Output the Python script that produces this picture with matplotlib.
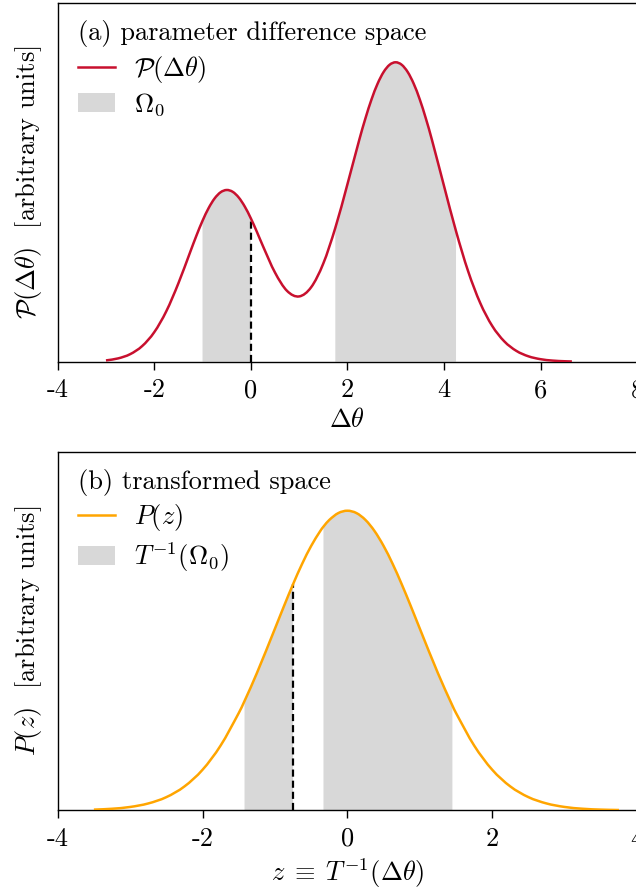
import matplotlib
matplotlib.use('Agg')
import matplotlib.pyplot as plt
from matplotlib.lines import Line2D
from matplotlib.patches import PathPatch, Patch
from matplotlib.path import Path
import numpy as np

# panel (a): density in parameter-difference space (peak = 1)
dtheta = [-3, -2.75, -2.5, -2.25, -2, -1.75, -1.5, -1.25, -1.125, -1, -0.875,
          -0.75, -0.625, -0.5, -0.375, -0.25, -0.125, 0, 0.125, 0.25, 0.5,
          0.75, 1, 1.25, 1.5, 1.75, 2, 2.25, 2.375, 2.5, 2.625, 2.75, 2.875,
          3, 3.125, 3.25, 3.375, 3.5, 3.625, 3.75, 4, 4.25, 4.5, 4.75, 5,
          5.25, 5.5, 5.75, 6, 6.25, 6.5, 6.65]
p_dtheta = [0.0043, 0.0110, 0.0251, 0.0523, 0.0986, 0.1687, 0.2619, 0.3687,
            0.4217, 0.4707, 0.5128, 0.5453, 0.5660, 0.5735, 0.5674, 0.5484,
            0.5181, 0.4789, 0.4340, 0.3866, 0.2980, 0.2366, 0.2180, 0.2488,
            0.3276, 0.4470, 0.5921, 0.7433, 0.8134, 0.8761, 0.9283, 0.9675,
            0.9918, 1.0000, 0.9917, 0.9673, 0.9280, 0.8756, 0.8125, 0.7417,
            0.5878, 0.4360, 0.3025, 0.1965, 0.1194, 0.0679, 0.0361, 0.0180,
            0.0084, 0.0037, 0.0015, 0.0008]
omega0 = [(-1, 0), (1.75, 4.25)]
cut_a = 0

# panel (b): density in transformed space
z = [-3.5, -3.25, -3, -2.75, -2.5, -2.25, -2, -1.75, -1.5, -1.42, -1.25, -1,
     -0.875, -0.75, -0.625, -0.5, -0.375, -0.33, -0.25, -0.125, 0, 0.125,
     0.25, 0.375, 0.5, 0.625, 0.75, 0.875, 1, 1.25, 1.45, 1.5, 1.75, 2, 2.25,
     2.5, 2.75, 3, 3.25, 3.5, 3.75]
p_z = [0.0022, 0.0051, 0.0111, 0.0228, 0.0439, 0.0796, 0.1353, 0.2163,
       0.3247, 0.3649, 0.4578, 0.6065, 0.6819, 0.7548, 0.8226, 0.8825,
       0.9321, 0.9470, 0.9692, 0.9922, 1.0000, 0.9922, 0.9692, 0.9321,
       0.8825, 0.8226, 0.7548, 0.6819, 0.6065, 0.4578, 0.3495, 0.3247,
       0.2163, 0.1353, 0.0796, 0.0439, 0.0228, 0.0111, 0.0051, 0.0022,
       0.0009]
t_inv_omega0 = [(-1.42, -0.75), (-0.33, 1.45)]
cut_b = -0.75

plt.rcParams['font.family'] = 'serif'
plt.rcParams['font.serif'] = ['cmr10']
plt.rcParams['mathtext.fontset'] = 'cm'
plt.rcParams['axes.formatter.use_mathtext'] = False
plt.rcParams['axes.unicode_minus'] = False
plt.rcParams['font.size'] = 19
plt.rcParams['axes.linewidth'] = 1.0

fill_col = '#d8d8d8'


def smooth_segments(x, y, i0, i1):
    # cubic Hermite (Bezier) pieces passing through the read points
    n = len(x)
    m = np.empty(n)
    m[1:-1] = (y[2:] - y[:-2]) / (x[2:] - x[:-2])
    m[0] = (y[1] - y[0]) / (x[1] - x[0])
    m[-1] = (y[-1] - y[-2]) / (x[-1] - x[-2])
    verts, codes = [], []
    for i in range(i0, i1):
        h = x[i + 1] - x[i]
        verts += [(x[i] + h / 3, y[i] + m[i] * h / 3),
                  (x[i + 1] - h / 3, y[i + 1] - m[i + 1] * h / 3),
                  (x[i + 1], y[i + 1])]
        codes += [Path.CURVE4] * 3
    return verts, codes


def panel(ax, x, y, regions, cut, color, title, lab_line, lab_fill,
          xlim, xticks, xlabel, ylabel):
    x = np.asarray(x, float)
    y = np.asarray(y, float)
    for lo, hi in regions:
        i0 = int(np.argmin(np.abs(x - lo)))
        i1 = int(np.argmin(np.abs(x - hi)))
        v, c = smooth_segments(x, y, i0, i1)
        verts = [(x[i0], 0), (x[i0], y[i0])] + v + [(x[i1], 0), (x[i0], 0)]
        codes = [Path.MOVETO, Path.LINETO] + c + [Path.LINETO, Path.CLOSEPOLY]
        ax.add_patch(PathPatch(Path(verts, codes), facecolor=fill_col,
                               edgecolor='none', lw=0, zorder=1))
    v, c = smooth_segments(x, y, 0, len(x) - 1)
    line = Path([(x[0], y[0])] + v, [Path.MOVETO] + c)
    ax.add_patch(PathPatch(line, facecolor='none', edgecolor=color, lw=1.8,
                           zorder=3, capstyle='butt'))
    k = int(np.argmin(np.abs(x - cut)))
    ax.vlines(x[k], 0, y[k], colors='k', linestyles=(0, (3.2, 1.8)),
              lw=1.6, zorder=2)
    ax.set_xlim(*xlim)
    ax.set_ylim(0, 1.197)
    ax.set_xticks(xticks)
    ax.set_xticklabels([str(t) for t in xticks])
    ax.set_yticks([])
    ax.tick_params(axis='x', length=6, width=1.0, pad=6)
    ax.set_xlabel(xlabel, labelpad=4)
    ax.set_ylabel(ylabel, labelpad=10)
    handles = [Line2D([], [], color=color, lw=1.8),
               Patch(facecolor=fill_col, edgecolor='none')]
    ax.legend(handles, [lab_line, lab_fill], title=title, title_fontsize=19,
              alignment='left', loc='upper left', bbox_to_anchor=(0.006, 1),
              frameon=False, handlelength=1.4, handletextpad=0.7,
              labelspacing=0.25, borderaxespad=0.5, borderpad=0.15)


fig = plt.figure(figsize=(6.36, 8.92), dpi=100)
ax1 = fig.add_axes([0.0907, 0.5945, 0.911, 0.4018])
ax2 = fig.add_axes([0.0907, 0.0916, 0.911, 0.402])

panel(ax1, dtheta, p_dtheta, omega0, cut_a, '#c8102e',
      '(a) parameter difference space', r'$\mathcal{P}(\Delta\theta)$',
      r'$\Omega_0$', (-4, 8), [-4, -2, 0, 2, 4, 6, 8], r'$\Delta\theta$',
      r'$\mathcal{P}(\Delta\theta)$  [arbitrary units]')
panel(ax2, z, p_z, t_inv_omega0, cut_b, '#ffa500',
      '(b) transformed space', r'$P(z)$', r'$T^{-1}(\Omega_0)$',
      (-4, 4), [-4, -2, 0, 2, 4], r'$z\;\equiv\;T^{-1}(\Delta\theta)$',
      r'$P(z)$  [arbitrary units]')

fig.savefig('out.png', dpi=100)
